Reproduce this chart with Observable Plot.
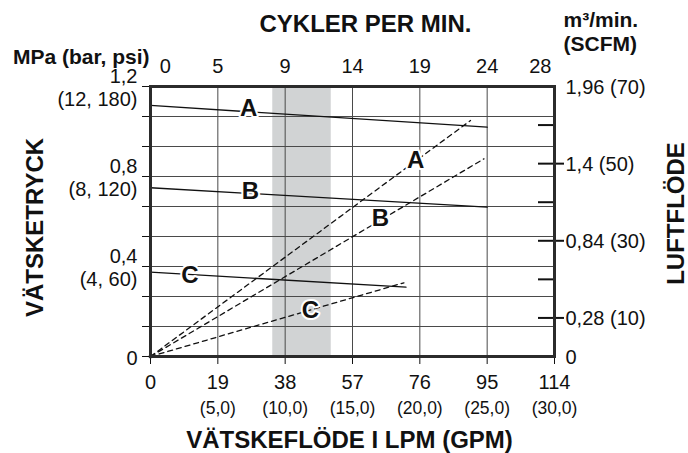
<!DOCTYPE html>
<html><head><meta charset="utf-8">
<script src="https://cdn.jsdelivr.net/npm/d3@7"></script>
<script src="https://cdn.jsdelivr.net/npm/@observablehq/plot@0.6"></script>
<style>
body{margin:0;background:#fff}
svg{font-family:"Liberation Sans",Arial,sans-serif}
</style>
</head><body><div id="chart"></div>
<script>
// ---- data ----
const lpmTicks = [0, 19, 38, 57, 76, 95, 114];
const gpmLabels = ["", "(5,0)", "(10,0)", "(15,0)", "(20,0)", "(25,0)", "(30,0)"];
const cycleLabels = ["0", "5", "9", "14", "19", "24", "28"];
const cycleAtLpm = [4.2, 19, 38, 57, 76, 95, 110];
const pressureGrid = [0, 1, 2, 3, 4, 5, 6, 7, 8, 9].map(i => i * 0.4 / 3);
const pressureTicks = [0, 0.4, 0.8, 1.2];
const pressureLabels = ["0", "0,4\n(4, 60)", "0,8\n(8, 120)", "1,2\n(12, 180)"];
const airTicks = [0.28, 0.56, 0.84, 1.12, 1.4, 1.68];
const airLabelVals = [0, 0.28, 0.84, 1.4, 1.96];
const airLabels = ["0", "0,28 (10)", "0,84 (30)", "1,4 (50)", "1,96 (70)"];
const series = ["A", "B", "C"];
// fluid pressure (MPa) lines: start at 0 LPM, end at given flow
const pressureStart = [1.116, 0.75, 0.375];
const pressureEndFlow = [95, 95, 72.1];
const pressureEnd = [1.019, 0.664, 0.308];
// air consumption (m3/min) lines from origin
const airEndFlow = [90.3, 94.1, 71.5];
const airEnd = [1.713, 1.435, 0.535];
// series label anchors
const pressureLabelFlow = [27.7, 28.2, 11.1];
const pressureLabelVal = [1.102, 0.733, 0.36];
const airLabelFlow = [74.8, 64.9, 45.1];
const airLabelVal = [1.423, 1.0, 0.334];
const band = [34.5, 51];

const K = 1.2 / 1.96; // air m3/min -> pressure axis units

const pressureRows = series.flatMap((s, i) => [
  {s, lpm: 0, mpa: pressureStart[i]},
  {s, lpm: pressureEndFlow[i], mpa: pressureEnd[i]}
]);
const airRows = series.flatMap((s, i) => [
  {s, lpm: 0, air: 0},
  {s, lpm: airEndFlow[i], air: airEnd[i]}
]);
const labelRows = series.flatMap((s, i) => [
  {s, lpm: pressureLabelFlow[i], v: pressureLabelVal[i]},
  {s, lpm: airLabelFlow[i], v: airLabelVal[i] * K}
]);

const ink = "#111";
const chart = Plot.plot({
  width: 688, height: 453,
  marginTop: 86, marginBottom: 97, marginLeft: 150, marginRight: 134,
  x: {domain: [0, 114]},
  y: {domain: [0, 1.2]},
  style: {fontFamily: '"Liberation Sans", Arial, sans-serif', color: ink, background: "#fff"},
  marks: [
    Plot.rectX([band], {x1: d => d[0], x2: d => d[1], fill: "#d1d3d4"}),
    Plot.gridX(lpmTicks, {stroke: "#4a4a4a", strokeOpacity: 1, strokeWidth: 1}),
    Plot.gridY(pressureGrid, {stroke: "#4a4a4a", strokeOpacity: 1, strokeWidth: 1}),
    Plot.line(pressureRows, {x: "lpm", y: "mpa", z: "s", stroke: ink, strokeWidth: 1.3}),
    Plot.line(airRows, {x: "lpm", y: d => d.air * K, z: "s", stroke: ink, strokeWidth: 1.3, strokeDasharray: "5,4"}),
    Plot.dot([0], {x: 0, y: 0, r: 2, fill: ink}),
    Plot.text(labelRows, {x: "lpm", y: "v", text: "s", fontSize: 24, fontWeight: "bold", fill: ink, stroke: "#fff", strokeWidth: 4}),
    // left ticks
    Plot.axisY({anchor: "left", ticks: pressureGrid, tickSize: 8, tickFormat: () => "", stroke: ink}),
    // bottom axis
    Plot.axisX({anchor: "bottom", ticks: lpmTicks, tickSize: 8, tickPadding: 10, fontSize: 20, tickFormat: d => String(d), stroke: ink, label: null}),
    // right ticks inside and outside
    Plot.tickY(airTicks, {y: d => d * K, insetLeft: 388, stroke: ink, strokeWidth: 2}),
    Plot.axisY({anchor: "right", ticks: [0.28, 0.84, 1.4].map(v => v * K), tickSize: 9, tickFormat: () => "", stroke: ink, strokeWidth: 2}),
    Plot.frame({stroke: "#2b2b2b", strokeWidth: 3}),
    // left labels
    Plot.text(pressureTicks, {y: d => d, text: (d, i) => pressureLabels[i], frameAnchor: "left", dx: -13, dy: 1, textAnchor: "end", lineHeight: 1.12, fontSize: 20, fill: ink}),
    // right labels
    Plot.text(airLabelVals, {y: d => d * K, text: (d, i) => airLabels[i], frameAnchor: "right", dx: 11, dy: 1, textAnchor: "start", fontSize: 20, fill: ink}),
    // GPM row
    Plot.text(lpmTicks, {x: d => d, text: (d, i) => gpmLabels[i], frameAnchor: "bottom", dy: 57, fontSize: 17.5, fill: ink}),
    // cycles per minute row
    Plot.text(cycleAtLpm, {x: d => d, text: (d, i) => cycleLabels[i], frameAnchor: "top", dy: -14, lineAnchor: "bottom", fontSize: 20, fill: ink}),
    // titles
    Plot.text(["VÄTSKEFLÖDE I LPM (GPM)"], {frameAnchor: "bottom", dx: -3, dy: 91, lineAnchor: "bottom", fontSize: 24, fontWeight: "bold", fill: ink}),
    Plot.text(["CYKLER PER MIN."], {frameAnchor: "top", dx: 13, dy: -55, lineAnchor: "bottom", fontSize: 24, fontWeight: "bold", fill: ink}),
    Plot.text(["MPa (bar, psi)"], {frameAnchor: "top-left", dx: -1, dy: -23, textAnchor: "end", lineAnchor: "bottom", fontSize: 21, fontWeight: "bold", fill: ink}),
    Plot.text(["m³/min.\n(SCFM)"], {frameAnchor: "top-right", dx: 9, dy: -36, textAnchor: "start", lineAnchor: "bottom", lineHeight: 1.1, fontSize: 21, fontWeight: "bold", fill: ink}),
    Plot.text(["VÄTSKETRYCK"], {frameAnchor: "left", dx: -115, dy: 6, rotate: -90, textAnchor: "middle", lineAnchor: "middle", fontSize: 24, fontWeight: "bold", fill: ink}),
    Plot.text(["LUFTFLÖDE"], {frameAnchor: "right", dx: 122, dy: -8, rotate: -90, textAnchor: "middle", lineAnchor: "middle", fontSize: 24, fontWeight: "bold", fill: ink})
  ]
});
document.getElementById("chart").appendChild(chart);
</script>
</body></html>
